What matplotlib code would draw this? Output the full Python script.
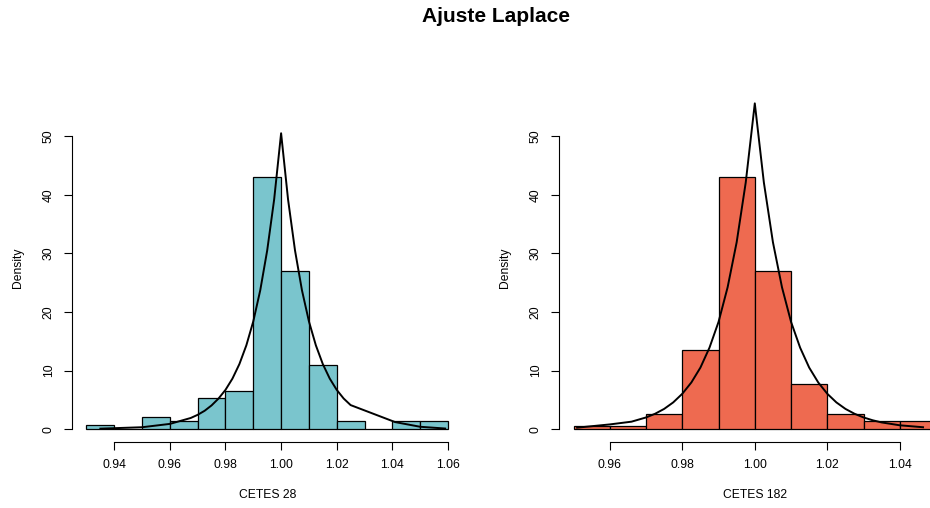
import matplotlib
matplotlib.use("Agg")
import matplotlib.pyplot as plt

plt.rcParams['font.family'] = ['Liberation Sans', 'DejaVu Sans']

# histogram bins and densities
c28_edges = [0.93, 0.94, 0.95, 0.96, 0.97, 0.98, 0.99, 1.00, 1.01, 1.02, 1.03, 1.04, 1.05, 1.06]
c28_dens = [0.65, 0.0, 2.0, 1.3, 5.3, 6.5, 43.0, 27.0, 11.0, 1.3, 0.0, 1.3, 1.3]

c182_edges = [0.95, 0.96, 0.97, 0.98, 0.99, 1.00, 1.01, 1.02, 1.03, 1.04, 1.05]
c182_dens = [0.6, 0.6, 2.6, 13.5, 43.0, 27.0, 7.7, 2.6, 1.3, 1.3]

# fitted Laplace curve
c28_fit_x = [0.935, 0.950, 0.960, 0.9675, 0.970, 0.9725, 0.975, 0.9775, 0.980, 0.9825, 0.985,
             0.9875, 0.990, 0.9925, 0.995, 0.9975, 1.000, 1.0025, 1.005, 1.0075, 1.010, 1.0125,
             1.015, 1.0175, 1.020, 1.0225, 1.025, 1.041, 1.050, 1.059]
c28_fit_y = [0.08, 0.32, 0.89, 1.9, 2.44, 3.13, 4.05, 5.22, 6.7, 8.62, 11.1,
             14.3, 18.4, 23.7, 30.5, 39.2, 50.5, 39.2, 30.5, 23.7, 18.4, 14.3,
             11.1, 8.62, 6.7, 5.22, 4.1, 1.2, 0.4, 0.1]

c182_fit_x = [0.951, 0.960, 0.966, 0.970, 0.9725, 0.975, 0.9775, 0.980, 0.9825, 0.985, 0.9875,
              0.990, 0.9925, 0.995, 0.9975, 1.000, 1.0025, 1.005, 1.0075, 1.010, 1.0125, 1.015,
              1.0175, 1.020, 1.0225, 1.025, 1.0275, 1.030, 1.0325, 1.035, 1.040, 1.0464]
c182_fit_y = [0.25, 0.8, 1.27, 1.99, 2.62, 3.45, 4.56, 6.03, 7.96, 10.5, 13.9,
              18.3, 24.2, 31.9, 42.1, 55.6, 42.1, 31.9, 24.2, 18.3, 13.9, 10.5,
              7.96, 6.03, 4.56, 3.45, 2.62, 1.99, 1.51, 1.14, 0.65, 0.32]

c28_ticks = [0.94, 0.96, 0.98, 1.00, 1.02, 1.04, 1.06]
c182_ticks = [0.96, 0.98, 1.00, 1.02, 1.04]
y_ticks = [0, 10, 20, 30, 40, 50]

W, H = 930, 508
fig = plt.figure(figsize=(W / 100, H / 100), dpi=100)


def panel(rect, edges, dens, fx, fy, xticks, xlim, color, xlabel):
    ax = fig.add_axes(rect)
    lefts = edges[:-1]
    widths = [edges[i + 1] - edges[i] for i in range(len(lefts))]
    ax.bar(lefts, dens, width=widths, align='edge', color=color,
           edgecolor='black', linewidth=0.9)
    ax.plot(fx, fy, color='black', linewidth=1.4)
    ax.set_xlim(*xlim)
    ax.set_ylim(-2.2, 57.2)
    for s in ['top', 'right']:
        ax.spines[s].set_visible(False)
    ax.spines['left'].set_bounds(0, 50)
    ax.spines['bottom'].set_bounds(xticks[0], xticks[-1])
    ax.spines['left'].set_linewidth(0.8)
    ax.spines['bottom'].set_linewidth(0.8)
    ax.set_xticks(xticks)
    ax.set_xticklabels(['%.2f' % t for t in xticks])
    ax.set_yticks(y_ticks)
    ax.set_yticklabels([str(t) for t in y_ticks], rotation=90, va='center')
    ax.tick_params(axis='both', length=5.5, width=0.8, labelsize=8.7, pad=7)
    ax.text(0.5, -0.152, xlabel, transform=ax.transAxes, ha='center', va='center', fontsize=8.7)
    ax.text(-0.138, 0.5, 'Density', transform=ax.transAxes, ha='center', va='center',
            rotation=90, fontsize=8.7)
    return ax


bottom = (H - 442) / H
height = (442 - 94) / H
panel([72 / W, bottom, (462.4 - 72) / W, height], c28_edges, c28_dens, c28_fit_x, c28_fit_y,
      c28_ticks, (0.9248, 1.0652), '#7AC5CD', 'CETES 28')
panel([559 / W, bottom, (950.6 - 559) / W, height], c182_edges, c182_dens, c182_fit_x, c182_fit_y,
      c182_ticks, (0.946, 1.054), '#EE6A50', 'CETES 182')

fig.text(496 / W, 1 - 17 / H, 'Ajuste Laplace', ha='center', va='center',
         fontsize=15, fontweight='bold')

fig.savefig('out.png', dpi=100)
